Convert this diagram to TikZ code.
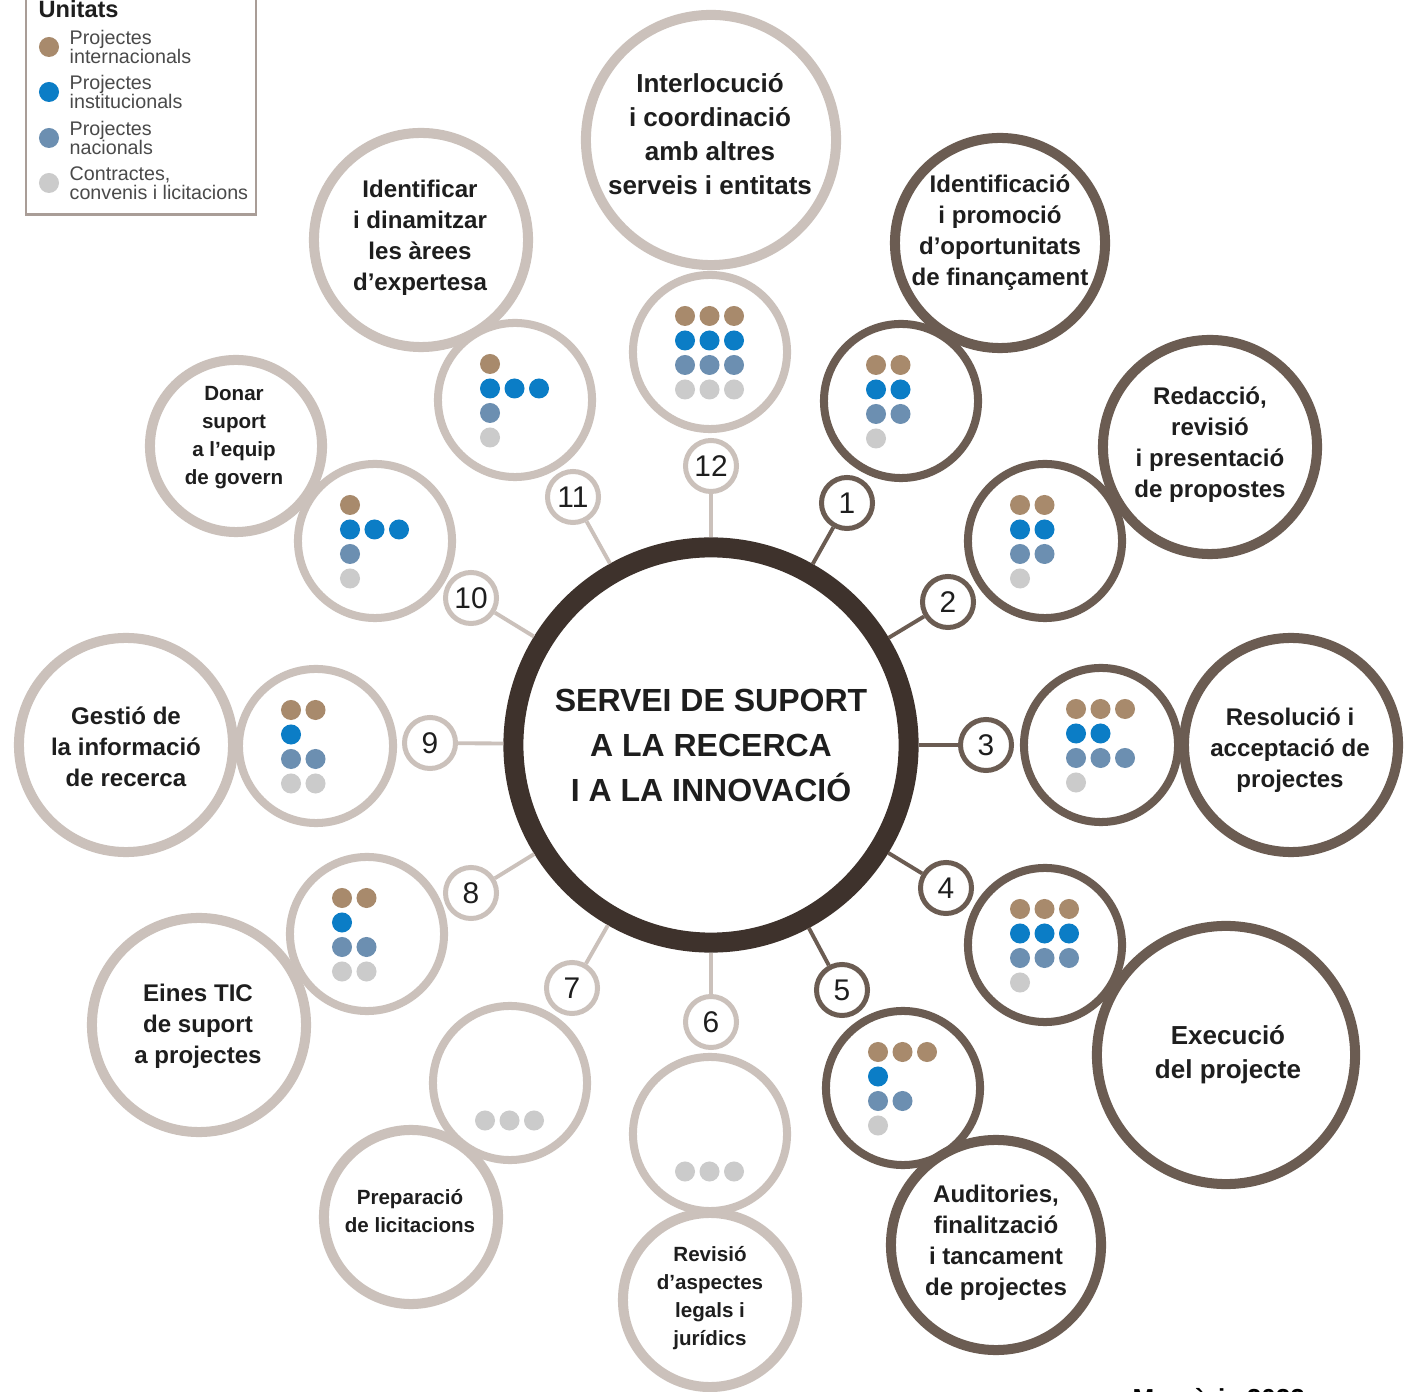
\documentclass[tikz,border=0pt]{standalone}
\usepackage{fontspec}
\setmainfont{Liberation Sans}
\usetikzlibrary{calc}
\definecolor{ringdark}{HTML}{6B5C52}
\definecolor{ringlight}{HTML}{CBC1BB}
\definecolor{ringcenter}{HTML}{3E322C}
\definecolor{dotbrown}{HTML}{A88A6C}
\definecolor{dotblue}{HTML}{0B7DC6}
\definecolor{dotsteel}{HTML}{6C8FB1}
\definecolor{dotgrey}{HTML}{CBCBCB}
\definecolor{legframe}{HTML}{A99D97}
\definecolor{txtdark}{HTML}{1E1E1E}
\definecolor{legtxt}{HTML}{4A4A4A}
\newcommand\mkdotrow[4]{\ifnum#3>0 \foreach \i in {1,...,#3}{\fill[#4] ($(#1)+({-25+24.5*(\i-1)},{-36+24.5*#2})$) circle[radius=0.1cm];}\fi}
\newcommand\mkdots[5]{\mkdotrow{#1}{0}{#2}{dotbrown}\mkdotrow{#1}{1}{#3}{dotblue}\mkdotrow{#1}{2}{#4}{dotsteel}\mkdotrow{#1}{3}{#5}{dotgrey}}
\begin{document}
\begin{tikzpicture}[x=0.01cm,y=-0.01cm,
  ring/.style={circle, inner sep=0pt},
  tdark/.style={ring, draw=ringdark, line width=2.85pt},
  tlight/.style={ring, draw=ringlight, line width=2.85pt},
  ddark/.style={ring, draw=ringdark, line width=2.28pt, minimum size=1.54cm},
  dlight/.style={ring, draw=ringlight, line width=2.28pt, minimum size=1.54cm},
  numbox/.style={ring, minimum size=0.51cm, line width=1.42pt, text=txtdark, font=\fontsize{8.5pt}{10pt}\selectfont},
  ndark/.style={numbox, draw=ringdark},
  nlight/.style={numbox, draw=ringlight},
  lab/.style={align=center, inner sep=0pt, text=txtdark},
  fbig/.style={lab, font=\bfseries\fontsize{7.4pt}{9.7pt}\selectfont},
  fmed/.style={lab, font=\bfseries\fontsize{6.85pt}{8.8pt}\selectfont},
  fsmall/.style={lab, font=\bfseries\fontsize{5.85pt}{7.95pt}\selectfont},
  cdark/.style={draw=ringdark, line width=1.1pt},
  clight/.style={draw=ringlight, line width=1.1pt},
  legdot/.style={circle, inner sep=0pt, minimum size=0.2cm},
  legtext/.style={anchor=west, align=left, inner sep=0pt, text=legtxt, font=\fontsize{5.6pt}{5.4pt}\selectfont}
]
\useasboundingbox (0,0) rectangle (1409,1392);
\clip (0,0) rectangle (1409,1392);
\fill[white] (0,0) rectangle (1409,1392);

% centre
\node[circle, draw=ringcenter, line width=5.69pt, minimum size=3.95cm, inner sep=0pt,
  align=center, text=txtdark, font=\bfseries\fontsize{9.1pt}{12.8pt}\selectfont] (c) at (711,745)
  {SERVEI DE SUPORT\\A LA RECERCA\\I A LA INNOVACIÓ};

% text circles
\node[tlight, minimum size=2.50cm] (t12) at (711,140) {};
\node[tdark, minimum size=2.10cm] (t1) at (1000,243) {};
\node[tdark, minimum size=2.14cm] (t2) at (1210,447) {};
\node[tdark, minimum size=2.14cm] (t3) at (1291,745) {};
\node[tdark, minimum size=2.58cm] (t4) at (1226,1055) {};
\node[tdark, minimum size=2.10cm] (t5) at (996,1245) {};
\node[tlight, minimum size=1.74cm] (t6) at (710,1300) {};
\node[tlight, minimum size=1.74cm] (t7) at (411,1217) {};
\node[tlight, minimum size=2.14cm] (t8) at (199,1025) {};
\node[tlight, minimum size=2.14cm] (t9) at (126,745) {};
\node[tlight, minimum size=1.72cm] (t10) at (236,446) {};
\node[tlight, minimum size=2.14cm] (t11) at (421,240) {};

% dots circles
\node[dlight] (d12) at (710,352) {};
\node[ddark] (d1) at (901,401) {};
\node[ddark] (d2) at (1045,541) {};
\node[ddark] (d3) at (1101,745) {};
\node[ddark] (d4) at (1045,945) {};
\node[ddark] (d5) at (903,1088) {};
\node[dlight] (d6) at (710,1134) {};
\node[dlight] (d7) at (510,1083) {};
\node[dlight] (d8) at (367,934) {};
\node[dlight] (d9) at (316,746) {};
\node[dlight] (d10) at (375,541) {};
\node[dlight] (d11) at (515,400) {};

% labels
\node[fbig] (l12) at (710,134) {Interlocució\\i coordinació\\amb altres\\serveis i entitats};
\node[fmed] (l1) at (1000,233) {Identificació\\i promoció\\d'oportunitats\\de finançament};
\node[fmed] (l2) at (1210,445) {Redacció,\\revisió\\i presentació\\de propostes};
\node[fmed] (l3) at (1290,750) {Resolució i\\acceptació de\\projectes};
\node[fbig] (l4) at (1228,1055) {Execució\\del projecte};
\node[fmed] (l5) at (996,1243) {Auditories,\\finalització\\i tancament\\de projectes};
\node[fsmall] (l6) at (710,1298) {Revisió\\d'aspectes\\legals i\\jurídics};
\node[fsmall] (l7) at (410,1211) {Preparació\\de licitacions};
\node[fmed] (l8) at (198,1026) {Eines TIC\\de suport\\a projectes};
\node[fmed] (l9) at (126,747) {Gestió de\\la informació\\de recerca};
\node[fsmall] (l10) at (234,438) {Donar\\suport\\a l'equip\\de govern};
\node[fmed] (l11) at (420,238) {Identificar\\i dinamitzar\\les àrees\\d'expertesa};

% dots
\mkdots{d12}{3}{3}{3}{3}
\mkdots{d1}{2}{2}{2}{1}
\mkdots{d2}{2}{2}{2}{1}
\mkdots{d3}{3}{2}{3}{1}
\mkdots{d4}{3}{3}{3}{1}
\mkdots{d5}{3}{1}{2}{1}
\mkdots{d6}{0}{0}{0}{3}
\mkdots{d7}{0}{0}{0}{3}
\mkdots{d8}{2}{1}{2}{2}
\mkdots{d9}{2}{1}{2}{2}
\mkdots{d10}{1}{3}{1}{1}
\mkdots{d11}{1}{3}{1}{1}

% number bubbles
\node[nlight] (n12) at (711,466) {12};
\node[ndark] (n1) at (847,503) {1};
\node[ndark] (n2) at (948,602) {2};
\node[ndark] (n3) at (986,745) {3};
\node[ndark] (n4) at (946,888) {4};
\node[ndark] (n5) at (842,990) {5};
\node[nlight] (n6) at (711,1022) {6};
\node[nlight] (n7) at (572,988) {7};
\node[nlight] (n8) at (471,893) {8};
\node[nlight] (n9) at (430,743) {9};
\node[nlight] (n10) at (471,598) {10};
\node[nlight] (n11) at (573,497) {11};

% connectors
\draw[clight] (c) -- (n12);
\draw[cdark] (c) -- (n1);
\draw[cdark] (c) -- (n2);
\draw[cdark] (c) -- (n3);
\draw[cdark] (c) -- (n4);
\draw[cdark] (c) -- (n5);
\draw[clight] (c) -- (n6);
\draw[clight] (c) -- (n7);
\draw[clight] (c) -- (n8);
\draw[clight] (c) -- (n9);
\draw[clight] (c) -- (n10);
\draw[clight] (c) -- (n11);

% legend
\draw[legframe, line width=0.85pt, fill=white] (26,-20) rectangle (256,215);
\node[anchor=west, inner sep=0pt, text=txtdark, font=\bfseries\fontsize{6.7pt}{8pt}\selectfont] (legtitle) at (38,9) {Unitats};
\node[legdot, fill=dotbrown] (ld1) at (49,47) {};
\node[legdot, fill=dotblue] (ld2) at (49,92) {};
\node[legdot, fill=dotsteel] (ld3) at (49,138) {};
\node[legdot, fill=dotgrey] (ld4) at (49,183) {};
\node[legtext] (lt1) at (69,47) {Projectes\\internacionals};
\node[legtext] (lt2) at (69,92) {Projectes\\institucionals};
\node[legtext] (lt3) at (69,138) {Projectes\\nacionals};
\node[legtext] (lt4) at (69,183) {Contractes,\\convenis i licitacions};

% footer (cut by the page edge, as in the reference)
\node[anchor=base west, inner sep=0pt, text=black, font=\bfseries\fontsize{7.4pt}{9pt}\selectfont] (foot) at (1132,1407) {Memòria 2022};
\end{tikzpicture}
\end{document}
